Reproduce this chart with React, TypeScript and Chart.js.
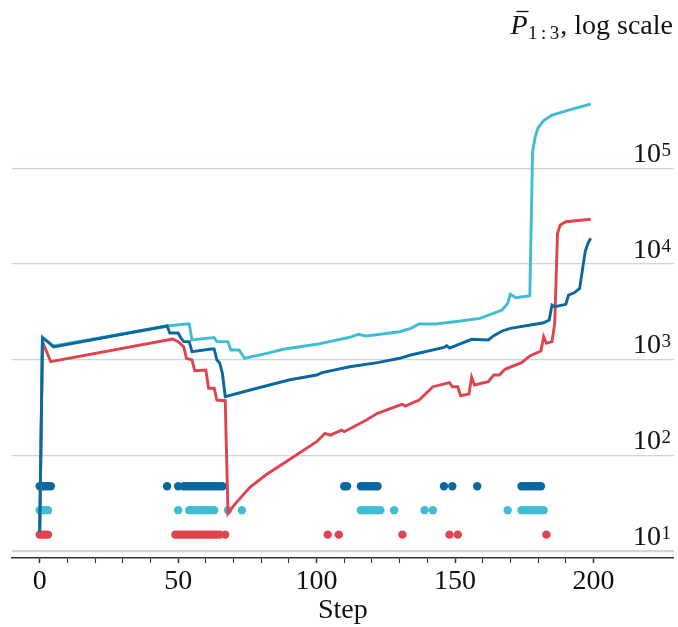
import React, { useEffect, useRef } from 'react';
import { Chart, registerables } from 'chart.js';

Chart.register(...registerables);

// ---------- data ----------
const BLUE_STEPS = [0, 1, 3, 5, 46, 47, 50, 51, 52, 54, 55, 62, 63, 64, 65, 66, 67, 76, 90, 100, 102, 112, 122, 130, 134, 146, 147, 148, 156, 162, 164, 167, 170, 182, 184, 185, 186, 190, 191, 193, 195, 196, 197, 198, 199];
const BLUE_VALUES = [16, 1690, 1540, 1365, 2260, 1910, 1910, 1690, 1550, 1550, 1220, 1300, 1300, 998, 929, 720, 413, 485, 617, 695, 735, 849, 935, 1040, 1125, 1354, 1407, 1330, 1640, 1614, 1790, 2004, 2137, 2440, 2607, 3740, 3590, 3800, 4750, 5020, 5580, 8700, 13500, 16500, 18600];

const CYAN_STEPS = [0, 1, 3, 5, 46, 53, 54, 55, 63, 64, 65, 68, 69, 72, 74, 82, 88, 100, 112, 115, 118, 130, 134, 137, 143, 152, 159, 167, 169, 170, 172, 177, 178, 179, 180, 182, 185, 192, 199];
const CYAN_VALUES = [16, 1735, 1540, 1397, 2260, 2370, 2370, 1614, 1707, 1550, 1550, 1550, 1268, 1268, 1040, 1172, 1291, 1455, 1722, 1850, 1775, 1968, 2137, 2370, 2370, 2548, 2716, 3318, 3897, 4840, 4460, 4680, 150000, 215000, 265000, 315000, 360000, 413000, 469000];

const RED_STEPS = [0, 1, 4, 48, 50, 52, 53, 55, 56, 60, 61, 63, 64, 67, 68, 70, 72, 76, 82, 88, 100, 103, 105, 109, 110, 118, 122, 130, 131, 132, 137, 142, 148, 149, 151, 152, 155, 156, 157, 162, 164, 166, 168, 174, 177, 181, 182, 183, 185, 186, 187, 188, 190, 199];
const RED_VALUES = [15, 1550, 957, 1652, 1550, 1373, 1040, 998, 771, 785, 506, 506, 381, 375, 25, 30, 35, 47, 64, 83, 140, 171, 164, 185, 178, 236, 277, 338, 344, 330, 381, 525, 578, 525, 525, 423, 441, 658, 547, 592, 695, 695, 798, 935, 1099, 1239, 1746, 1489, 1550, 2410, 21000, 25600, 27700, 29400];

const BLUE_DOT_STEPS = [0, 1, 2, 3, 4, 46, 50, 52, 53, 54, 55, 56, 57, 58, 59, 60, 61, 62, 63, 64, 65, 66, 110, 111, 116, 117, 118, 119, 120, 121, 122, 146, 149, 158, 174, 175, 176, 177, 178, 179, 180, 181];
const CYAN_DOT_STEPS = [0, 1, 2, 3, 50, 54, 55, 56, 57, 58, 59, 60, 61, 62, 63, 68, 73, 116, 117, 118, 119, 120, 121, 122, 123, 128, 139, 142, 169, 174, 175, 176, 177, 178, 179, 180, 181, 182];
const RED_DOT_STEPS = [0, 1, 2, 3, 49, 50, 51, 52, 53, 54, 55, 56, 57, 58, 59, 60, 61, 62, 63, 64, 65, 67, 104, 108, 131, 148, 151, 183];

const BLUE_DOT_LEVEL = 48;
const CYAN_DOT_LEVEL = 27;
const RED_DOT_LEVEL = 15;

const X_MAJOR_TICKS = [0, 50, 100, 150, 200];
const X_MINOR_STEP = 10;
const Y_DECADES = [1, 2, 3, 4, 5];

const X_LABEL = 'Step';
const TITLE_MAIN = 'P';
const TITLE_SUB = ['1', ':', '3'];
const TITLE_REST = ', log scale';

// ---------- style ----------
const BLUE = '#0a679f';
const CYAN = '#40bdd4';
const RED = '#e0434d';
const GRID = '#c9d6de';
const AXIS = '#333333';
const TEXT = '#111111';
const FONT = "'Liberation Serif', 'Times New Roman', serif";

const pts = (xs: number[], ys: number[]) => xs.map((x, i) => ({ x, y: ys[i] }));
const dots = (xs: number[], level: number) => xs.map((x) => ({ x, y: level }));

const labelsPlugin = {
  id: 'labelsPlugin',
  afterDraw(chart: any) {
    const { ctx, scales } = chart;
    const y = scales.y;
    ctx.save();
    ctx.fillStyle = TEXT;
    ctx.textBaseline = 'alphabetic';
    ctx.textAlign = 'left';
    const right = 671;
    for (const d of Y_DECADES) {
      const py = y.getPixelForValue(Math.pow(10, d));
      const exp = String(d);
      ctx.font = `19px ${FONT}`;
      const ew = ctx.measureText(exp).width;
      ctx.font = `28px ${FONT}`;
      const bw = ctx.measureText('10').width;
      const base = py - 6.5;
      ctx.fillText('10', right - ew - bw - 0.5, base);
      ctx.font = `19px ${FONT}`;
      ctx.fillText(exp, right - ew, base - 6);
    }
    // title: P-bar_{1:3}, log scale
    const tb = 34;
    const tright = 673;
    ctx.font = `28px ${FONT}`;
    const wRest = ctx.measureText(TITLE_REST).width;
    let x = tright - wRest;
    ctx.fillText(TITLE_REST, x, tb);
    ctx.font = `19px ${FONT}`;
    const gap = 3.5;
    const subW = TITLE_SUB.reduce((s, t) => s + ctx.measureText(t).width, 0) + gap * (TITLE_SUB.length - 1);
    x -= subW + 1;
    let sx = x;
    for (const t of TITLE_SUB) {
      ctx.fillText(t, sx, tb + 5);
      sx += ctx.measureText(t).width + gap;
    }
    ctx.font = `italic 28px ${FONT}`;
    const pw = ctx.measureText(TITLE_MAIN).width;
    x -= pw + 0.5;
    ctx.fillText(TITLE_MAIN, x, tb);
    ctx.strokeStyle = TEXT;
    ctx.lineWidth = 1.3;
    ctx.beginPath();
    ctx.moveTo(x + 6, tb - 22.5);
    ctx.lineTo(x + pw + 1, tb - 22.5);
    ctx.stroke();
    ctx.restore();
  },
};

export default function App() {
  const ref = useRef<HTMLCanvasElement | null>(null);
  useEffect(() => {
    if (!ref.current) return;
    const chart = new Chart(ref.current, {
      type: 'line',
      data: {
        datasets: [
          { data: pts(BLUE_STEPS, BLUE_VALUES), borderColor: BLUE, borderWidth: 2.9, pointRadius: 0, fill: false, tension: 0, order: 1 } as any,
          { data: pts(CYAN_STEPS, CYAN_VALUES), borderColor: CYAN, borderWidth: 2.9, pointRadius: 0, fill: false, tension: 0, order: 2 } as any,
          { data: pts(RED_STEPS, RED_VALUES), borderColor: RED, borderWidth: 2.9, pointRadius: 0, fill: false, tension: 0, order: 3 } as any,
          { data: dots(BLUE_DOT_STEPS, BLUE_DOT_LEVEL), showLine: false, pointRadius: 4.2, pointBorderWidth: 0, pointBackgroundColor: BLUE, borderColor: BLUE, order: 10 } as any,
          { data: dots(CYAN_DOT_STEPS, CYAN_DOT_LEVEL), showLine: false, pointRadius: 4.2, pointBorderWidth: 0, pointBackgroundColor: CYAN, borderColor: CYAN, order: 10 } as any,
          { data: dots(RED_DOT_STEPS, RED_DOT_LEVEL), showLine: false, pointRadius: 4.2, pointBorderWidth: 0, pointBackgroundColor: RED, borderColor: RED, order: 10 } as any,
        ],
      },
      options: {
        responsive: false,
        animation: false,
        events: [],
        layout: { padding: { left: 12, right: 3, top: 40, bottom: 0 } },
        plugins: { legend: { display: false }, tooltip: { enabled: false } },
        scales: {
          x: {
            type: 'linear',
            min: -10,
            max: 229,
            afterBuildTicks: (s: any) => {
              const t: any[] = [];
              for (let v = X_MAJOR_TICKS[0]; v <= X_MAJOR_TICKS[X_MAJOR_TICKS.length - 1]; v += X_MINOR_STEP) t.push({ value: v });
              s.ticks = t;
            },
            afterFit: (s: any) => { s.height = 69; },
            ticks: {
              autoSkip: false,
              maxRotation: 0,
              padding: 2,
              color: TEXT,
              font: { family: FONT, size: 28 },
              callback: (v: any) => (X_MAJOR_TICKS.includes(Number(v)) ? String(v) : ''),
            },
            grid: {
              drawOnChartArea: false,
              drawTicks: true,
              tickLength: 5,
              tickColor: AXIS,
              tickWidth: (c: any) => (c.tick && X_MAJOR_TICKS.includes(c.tick.value) ? 1.5 : 1.1),
            },
            border: { display: true, color: AXIS, width: 1.5 },
            title: { display: true, text: X_LABEL, color: TEXT, font: { family: FONT, size: 28 }, padding: 0 },
          },
          y: {
            type: 'logarithmic',
            position: 'right',
            min: 8.553,
            max: 2.184e6,
            afterBuildTicks: (s: any) => { s.ticks = Y_DECADES.map((d) => ({ value: Math.pow(10, d), major: true })); },
            afterFit: (s: any) => { s.width = 0; },
            ticks: { display: false },
            grid: { color: GRID, lineWidth: (c: any) => (c.tick && c.tick.value === 10 ? 2.2 : 1.3), drawTicks: false },
            border: { display: false },
          },
        },
      } as any,
      plugins: [labelsPlugin],
    });
    return () => chart.destroy();
  }, []);
  return (
    <div style={{ position: 'absolute', left: 0, top: 0, width: 678, height: 627, background: '#fff' }}>
      <canvas ref={ref} width={678} height={627} />
    </div>
  );
}
